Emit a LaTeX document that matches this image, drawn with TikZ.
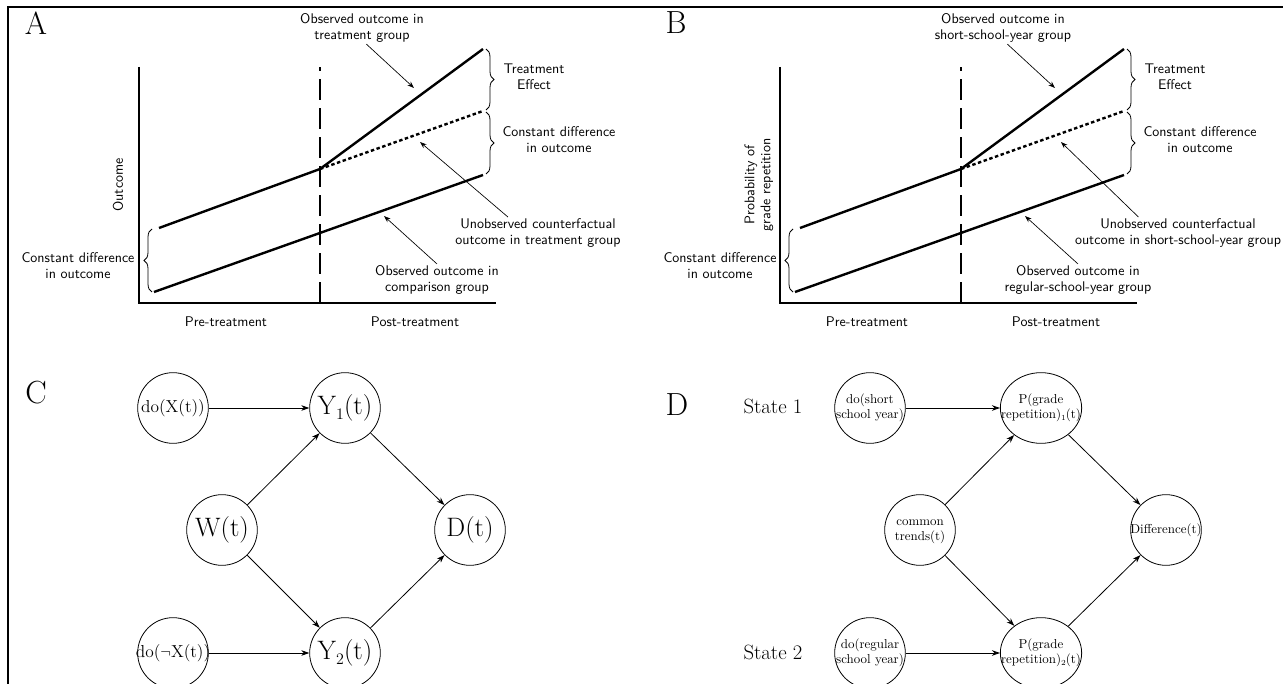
\documentclass[tikz,border=0pt]{standalone}
\usetikzlibrary{arrows.meta,decorations.pathreplacing,shapes.geometric}
\newlength{\NodeSize}
\setlength{\NodeSize}{53pt}
\newcommand{\nodetext}[1]{\makebox[0pt]{#1}}
\newcommand{\twolines}[2]{\makebox[0pt]{\begin{tabular}{@{}c@{}}#1\\#2\end{tabular}}}
\newcommand{\lowidx}[1]{\raisebox{-0.45ex}{\fontsize{0.6em}{0.6em}\selectfont #1}}
\tikzset{
  frame line/.style={line width=1.6pt},
  panel label/.style={font=\fontsize{24}{28}\selectfont, inner sep=0pt},
  plot text/.style={font=\sffamily\fontsize{10.5}{12}\selectfont, align=center, inner sep=1pt},
  axis line/.style={line width=0.9pt},
  trend line/.style={line width=1.8pt},
  counterfactual/.style={line width=1.8pt, dash pattern=on 2.6pt off 1.9pt},
  period line/.style={line width=0.9pt, dash pattern=on 15.75pt off 6pt},
  gap brace/.style={decorate, decoration={brace, amplitude=6pt}, line width=0.6pt},
  pointer/.style={-{Stealth[length=5pt, width=3.6pt]}, line width=0.5pt},
  causal node/.style={draw, circle, minimum size=\NodeSize, inner sep=0pt, line width=0.6pt},
  outcome node/.style={draw, ellipse, minimum width=61pt, minimum height=\NodeSize, inner sep=0pt, line width=0.6pt},
  causal edge/.style={-{Stealth[length=6pt, width=4.2pt]}, line width=0.6pt},
  big label/.style={font=\fontsize{20}{24}\selectfont},
  small label/.style={font=\fontsize{13}{15}\selectfont},
  tiny label/.style={font=\fontsize{9.7}{11}\selectfont},
  state label/.style={font=\fontsize{15.5}{18}\selectfont},
}

\begin{document}
\begin{tikzpicture}[x=0.75pt, y=-0.75pt]
  \useasboundingbox (0,0) rectangle (1283,684);
  \clip (0,0) rectangle (1283,684);
  \draw[frame line] (7,7) -- (1283,7);
  \draw[frame line] (8,7) -- (8,684);

  % panel A
  \begin{scope}
    \node[panel label] (a-label) at (36,23) {A};
    \draw[axis line] (139,67) -- (139,303) -- (496,303);
    \draw[period line] (320,303) -- (320,67);
    \draw[trend line] (154,292) -- (483,175);
    \draw[trend line] (159,228) -- (320,169) -- (483,49);
    \draw[counterfactual] (320,169) -- (483,111);
    \draw[gap brace] (486,49) -- (486,110);
    \draw[gap brace] (486,112) -- (486,174);
    \draw[gap brace] (152,292) -- (152,229);
    \node[plot text] (a-obs-t) at (362,28) {Observed outcome in\\treatment group};
    \node[plot text] (a-effect) at (534,77) {Treatment\\Effect};
    \node[plot text] (a-diff-r) at (559,140) {Constant difference\\in outcome};
    \node[plot text] (a-unobs) at (538,233) {Unobserved counterfactual\\outcome in treatment group};
    \node[plot text] (a-obs-c) at (437,280) {Observed outcome in\\comparison group};
    \node[plot text] (a-diff-l) at (78,266) {Constant difference\\in outcome};
    \node[plot text, rotate=90] (a-ylabel) at (118,185) {Outcome};
    \node[plot text] (a-pre) at (226,322) {Pre-treatment};
    \node[plot text] (a-post) at (415,322) {Post-treatment};
    \coordinate (a-tip-t) at (414,88);
    \coordinate (a-tip-u) at (420,142);
    \coordinate (a-tip-c) at (384,216);
    \draw[pointer] (a-obs-t.285) -- (a-tip-t);
    \draw[pointer] (a-unobs.152) -- (a-tip-u);
    \draw[pointer] (a-obs-c.north) -- (a-tip-c);
  \end{scope}

  % panel B
  \begin{scope}[shift={(641,0)}]
    \node[panel label] (b-label) at (35,23) {B};
    \draw[axis line] (139,67) -- (139,303) -- (496,303);
    \draw[period line] (320,303) -- (320,67);
    \draw[trend line] (154,292) -- (483,175);
    \draw[trend line] (159,228) -- (320,169) -- (483,49);
    \draw[counterfactual] (320,169) -- (483,111);
    \draw[gap brace] (486,49) -- (486,110);
    \draw[gap brace] (486,112) -- (486,174);
    \draw[gap brace] (152,292) -- (152,229);
    \node[plot text] (b-obs-t) at (362,28) {Observed outcome in\\short-school-year group};
    \node[plot text] (b-effect) at (534,77) {Treatment\\Effect};
    \node[plot text] (b-diff-r) at (559,140) {Constant difference\\in outcome};
    \node[plot text] (b-unobs) at (537,233) {Unobserved counterfactual\\outcome in short-school-year group};
    \node[plot text] (b-obs-c) at (437,280) {Observed outcome in\\regular-school-year group};
    \node[plot text] (b-diff-l) at (79,266) {Constant difference\\in outcome};
    \node[plot text, rotate=90] (b-ylabel) at (118,185) {Probability of\\grade repetition};
    \node[plot text] (b-pre) at (226,322) {Pre-treatment};
    \node[plot text] (b-post) at (415,322) {Post-treatment};
    \coordinate (b-tip-t) at (414,88);
    \coordinate (b-tip-u) at (420,142);
    \coordinate (b-tip-c) at (384,216);
    \draw[pointer] (b-obs-t.285) -- (b-tip-t);
    \draw[pointer] (b-unobs.158) -- (b-tip-u);
    \draw[pointer] (b-obs-c.north) -- (b-tip-c);
  \end{scope}

  % panel C
  \node[panel label] (c-label) at (36,393) {C};
  \node[causal node, small label] (c-dox) at (173,408) {\nodetext{do(X(t))}};
  \node[causal node, big label] (c-y1) at (345,408) {\nodetext{Y\lowidx{1}(t)}};
  \node[causal node, big label] (c-w) at (222,530) {\nodetext{W(t)}};
  \node[causal node, big label] (c-d) at (470,530) {\nodetext{D(t)}};
  \node[causal node, big label] (c-y2) at (345,653) {\nodetext{Y\lowidx{2}(t)}};
  \node[causal node, small label] (c-donx) at (173,653) {\nodetext{do($\neg$X(t))}};
  \draw[causal edge] (c-dox) -- (c-y1);
  \draw[causal edge] (c-w) -- (c-y1);
  \draw[causal edge] (c-w) -- (c-y2);
  \draw[causal edge] (c-y1) -- (c-d);
  \draw[causal edge] (c-y2) -- (c-d);
  \draw[causal edge] (c-donx) -- (c-y2);

  % panel D
  \node[panel label] (d-label) at (677,405) {D};
  \node[state label] (d-state1) at (773,406) {State 1};
  \node[state label] (d-state2) at (773,652) {State 2};
  \node[causal node, tiny label] (d-short) at (870,408) {\twolines{do(short}{school year)}};
  \node[outcome node, tiny label] (d-p1) at (1041,408) {\twolines{P(grade}{repetition)\lowidx{1}(t)}};
  \node[causal node, tiny label] (d-trends) at (920,530) {\twolines{common}{trends(t)}};
  \node[causal node, tiny label] (d-diff) at (1166,530) {\nodetext{Difference(t)}};
  \node[outcome node, tiny label] (d-p2) at (1041,653) {\twolines{P(grade}{repetition)\lowidx{2}(t)}};
  \node[causal node, tiny label] (d-regular) at (870,653) {\twolines{do(regular}{school year)}};
  \draw[causal edge] (d-short) -- (d-p1);
  \draw[causal edge] (d-trends) -- (d-p1);
  \draw[causal edge] (d-trends) -- (d-p2);
  \draw[causal edge] (d-p1) -- (d-diff);
  \draw[causal edge] (d-p2) -- (d-diff);
  \draw[causal edge] (d-regular) -- (d-p2);
\end{tikzpicture}
\end{document}
